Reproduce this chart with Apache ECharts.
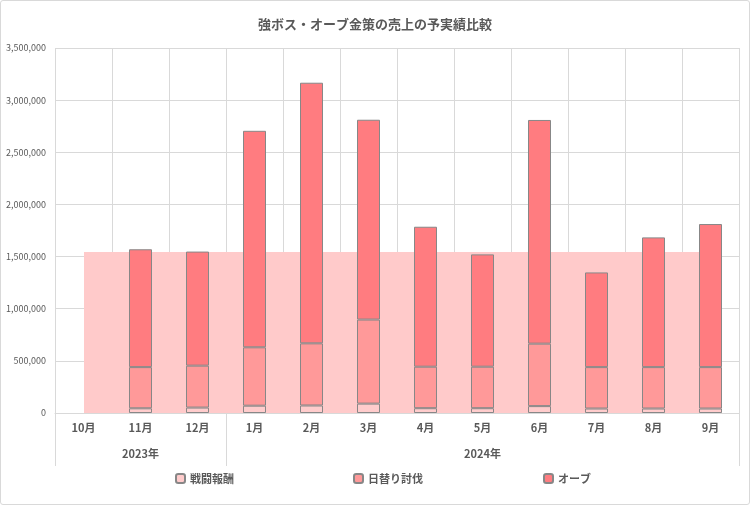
<!DOCTYPE html>
<html><head><meta charset="utf-8">
<script src="https://cdn.jsdelivr.net/npm/echarts@6/dist/echarts.min.js"></script>
<style>
html,body{margin:0;padding:0;background:#fff;}
#wrap{width:750px;height:505px;box-sizing:border-box;border:1px solid #d9d9d9;border-radius:3px;}
#chart{width:748px;height:503px;}
</style></head>
<body><div id="wrap"><div id="chart"></div></div>
<script>
const months = ['10月','11月','12月','1月','2月','3月','4月','5月','6月','7月','8月','9月'];
const yearLabels = ['', '2023年', '', '', '', '', '', '2024年', '', '', '', ''];
const yearBoundaries = [0, 3];
const sentou = [null, 45000, 52000, 70000, 72000, 90000, 46000, 46000, 66000, 43000, 43000, 43000];
const higawari = [null, 395000, 402000, 560000, 596000, 806000, 398000, 398000, 599000, 397000, 397000, 397000];
const orb = [null, 1130000, 1094000, 2076000, 2499000, 1916000, 1342000, 1077000, 2145000, 908000, 1244000, 1372000];
const target = [1545000, 1545000, 1545000, 1545000, 1545000, 1545000, 1545000, 1545000, 1545000, 1545000, 1545000, 1545000];
const yTicks = {min: 0, max: 3500000, interval: 500000};

const FONT = '"Noto Sans CJK JP", "Noto Sans", sans-serif';
const GREY = '#595959';
const LINE = '#d9d9d9';
const BORDER = '#878787';

const chart = echarts.init(document.getElementById('chart'));
const barStyle = (c) => ({color: c, borderColor: BORDER, borderWidth: 1});
const legendBase = {orient: 'horizontal', top: 467, itemWidth: 9, itemHeight: 9, itemGap: 4,
  textStyle: {color: GREY, fontSize: 11, fontFamily: FONT, fontWeight: 'bold'}};

chart.setOption({
  animation: false,
  title: {text: '強ボス・オーブ金策の売上の予実績比較', left: 'center', top: 12,
    textStyle: {color: GREY, fontSize: 13, fontWeight: 'bold', fontFamily: FONT}},
  legend: [
    Object.assign({}, legendBase, {left: 169, data: ['戦闘報酬']}),
    Object.assign({}, legendBase, {left: 347, data: ['日替り討伐']}),
    Object.assign({}, legendBase, {left: 537, data: ['オーブ']})
  ],
  grid: [
    {left: 54, right: 10, top: 47, bottom: 91, containLabel: false},
    {left: 83, right: 27, top: 47, bottom: 91, containLabel: false}
  ],
  xAxis: [
    {type: 'category', gridIndex: 0, data: months, position: 'bottom',
      axisLine: {show: true, lineStyle: {color: LINE, width: 1}},
      axisTick: {show: false},
      splitLine: {show: true, lineStyle: {color: LINE, width: 1}},
      axisLabel: {color: GREY, fontSize: 11, fontWeight: 'bold', fontFamily: FONT, margin: 9}},
    {type: 'category', gridIndex: 0, data: yearLabels, position: 'bottom',
      axisLine: {show: false},
      axisTick: {show: true, length: 53, lineStyle: {color: LINE, width: 1},
        interval: function (i) { return yearBoundaries.indexOf(i) >= 0; }},
      splitLine: {show: false},
      axisLabel: {color: GREY, fontSize: 11, fontWeight: 'bold', fontFamily: FONT, margin: 35, interval: 0}},
    {type: 'category', gridIndex: 1, data: months, boundaryGap: false, show: false},
    {type: 'category', gridIndex: 0, data: [''], position: 'bottom',
      axisLine: {show: false}, axisLabel: {show: false}, splitLine: {show: false},
      axisTick: {show: true, length: 53, lineStyle: {color: LINE, width: 1}}}
  ],
  yAxis: [
    Object.assign({type: 'value', gridIndex: 0,
      axisLine: {show: false}, axisTick: {show: false},
      splitLine: {show: true, lineStyle: {color: LINE, width: 1}},
      axisLabel: {color: GREY, fontSize: 9, fontFamily: FONT, margin: 9,
        formatter: (v) => v.toLocaleString('en-US')}}, yTicks),
    Object.assign({type: 'value', gridIndex: 1, show: false, splitLine: {show: false}}, yTicks)
  ],
  series: [
    {name: '予定', type: 'line', xAxisIndex: 2, yAxisIndex: 1, data: target, z: 1,
      symbol: 'none', lineStyle: {width: 0, color: '#ffcaca'}, areaStyle: {color: '#ffcaca', opacity: 1},
      itemStyle: {color: '#ffcaca'}, silent: true},
    {name: '戦闘報酬', type: 'bar', stack: 'a', data: sentou, barWidth: 23, z: 3, itemStyle: barStyle('#ffcccc')},
    {name: '日替り討伐', type: 'bar', stack: 'a', data: higawari, barWidth: 23, z: 3, itemStyle: barStyle('#ff9999')},
    {name: 'オーブ', type: 'bar', stack: 'a', data: orb, barWidth: 23, z: 3, itemStyle: barStyle('#ff7c80')}
  ]
});
</script></body></html>
